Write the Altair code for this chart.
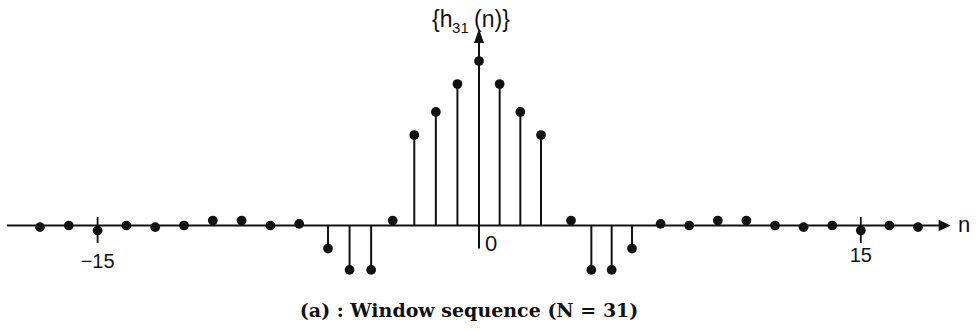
import altair as alt
import pandas as pd

# ---- data ----
n_vals = list(range(-17, 18))
h_vals = [-0.01, 0.0, -0.03, 0.0, -0.01, 0.0, 0.03, 0.03, 0.0, 0.01,
          -0.14, -0.27, -0.27, 0.03, 0.55, 0.69, 0.86,
          1.0,
          0.86, 0.69, 0.55, 0.03, -0.27, -0.27, -0.14,
          0.01, 0.0, 0.03, 0.03, 0.0, -0.01, 0.0, -0.03, 0.0, -0.01]

tick_n = [-15, 15]
tick_labels = ["\u221215", "15"]

title_parts = ["{h", "31", "(n)}"]
caption = "(a) : Window sequence (N = 31)"

df = pd.DataFrame({"n": n_vals, "h": h_vals, "base": [0.0] * len(n_vals)})

# hand-drawn figure: spacing of samples is not uniform -> piecewise linear scale
xs = alt.Scale(domain=[-17, -7, 0, 3, 4, 7, 17],
               range=[40, 328, 479, 541, 571, 632, 918], nice=False, zero=False)
ys = alt.Scale(domain=[0, 1], range=[225.5, 61], nice=False, zero=False)

INK = "#111111"


def X(f="x"):
    return alt.X(f"{f}:Q", scale=xs, axis=None)


def Y(f="y"):
    return alt.Y(f"{f}:Q", scale=ys, axis=None)


# stems and dots
stems = alt.Chart(df).mark_rule(color=INK, strokeWidth=2).encode(
    x=alt.X("n:Q", scale=xs, axis=None),
    y=alt.Y("h:Q", scale=ys, axis=None),
    y2="base:Q",
)
dots = alt.Chart(df).mark_point(filled=True, color=INK, size=95, opacity=1,
                                shape="circle").encode(
    x=alt.X("n:Q", scale=xs, axis=None),
    y=alt.Y("h:Q", scale=ys, axis=None),
)

# axes drawn as annotation marks
xaxis = alt.Chart(pd.DataFrame({"x": [-18.15], "x2": [17.75], "y": [0.0]})).mark_rule(
    color=INK, strokeWidth=2).encode(x=X(), x2="x2:Q", y=Y())
xarrow = alt.Chart(pd.DataFrame({"x": [17.93], "y": [0.0]})).mark_point(
    filled=True, color=INK, opacity=1, size=144,
    shape="M1,0L-1,-0.95L-1,0.95Z").encode(x=X(), y=Y())
yaxis = alt.Chart(pd.DataFrame({"x": [0.0], "y": [-0.14], "y2": [1.13]})).mark_rule(
    color=INK, strokeWidth=2).encode(x=X(), y=Y(), y2="y2:Q")
yarrow = alt.Chart(pd.DataFrame({"x": [0.0], "y": [1.152]})).mark_point(
    filled=True, color=INK, opacity=1, size=196,
    shape="M0,-1L0.72,1L-0.72,1Z").encode(x=X(), y=Y())
ticks = alt.Chart(pd.DataFrame({"x": tick_n, "y": [-0.106] * 2, "y2": [0.052] * 2})).mark_rule(
    color=INK, strokeWidth=1.8).encode(x=X(), y=Y(), y2="y2:Q")


def label(text, x, y, size, align="center", font="Liberation Sans", weight="normal"):
    return alt.Chart(pd.DataFrame({"x": [x], "y": [y], "t": [text]})).mark_text(
        align=align, baseline="alphabetic", fontSize=size, font=font,
        fontWeight=weight, color=INK).encode(x=X(), y=Y(), text="t:N")


layers = [
    xaxis, yaxis, ticks, stems, dots, xarrow, yarrow,
    label(tick_labels[0], tick_n[0], -0.258, 20),
    label(tick_labels[1], tick_n[1], -0.222, 20),
    label("0", 0.29, -0.155, 22, align="left"),
    label("n", 18.4, -0.038, 22, align="left"),
    label(title_parts[0], -2.18, 1.207, 23, align="left"),
    label(title_parts[1], -1.25, 1.170, 15, align="left"),
    label(title_parts[2], -0.23, 1.204, 23, align="left"),
    label(caption, -0.46, -0.556, 19, font="DejaVu Serif", weight="bold"),
]

chart = alt.layer(*layers).properties(
    width=976, height=331, padding=0, autosize="none", background="white"
).configure_view(stroke=None)

chart.save("out.html", embed_options={"renderer": "svg", "actions": False})
